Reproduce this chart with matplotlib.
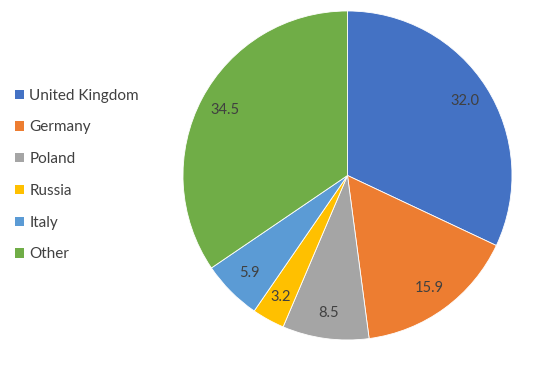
import matplotlib.pyplot as plt
from matplotlib.patches import Patch

countries = ['United Kingdom', 'Germany', 'Poland', 'Russia', 'Italy', 'Other']
shares = [32.0, 15.9, 8.5, 3.2, 5.9, 34.5]
colors = ['#4472C4', '#ED7D31', '#A5A5A5', '#FFC000', '#5B9BD5', '#70AD47']

plt.rcParams['font.family'] = ['Lato', 'DejaVu Sans']
txt_col = '#404040'

fig = plt.figure(figsize=(5.49, 3.67), dpi=100)

# pie placed so its centre / radius match the original
ax = fig.add_axes([0.3333, 0.0736, 0.5993, 0.8965])
wedges, texts, autotexts = ax.pie(shares, colors=colors, startangle=90, counterclock=False,
                                  autopct='%.1f', pctdistance=0.845, radius=1,
                                  wedgeprops=dict(linewidth=0.6, edgecolor='white'),
                                  textprops=dict(color=txt_col, fontsize=10.5))
ax.set_xlim(-1, 1)
ax.set_ylim(-1, 1)
ax.axis('off')

# legend on the left
handles = [Patch(facecolor=c, edgecolor='none') for c in colors]
leg = fig.legend(handles, countries, loc='center left', bbox_to_anchor=(0.003, 0.523),
                 frameon=False, handlelength=0.55, handleheight=0.55, handletextpad=0.35,
                 labelspacing=1.16, fontsize=11)
for t in leg.get_texts():
    t.set_color(txt_col)

fig.savefig('out.png', dpi=100)
